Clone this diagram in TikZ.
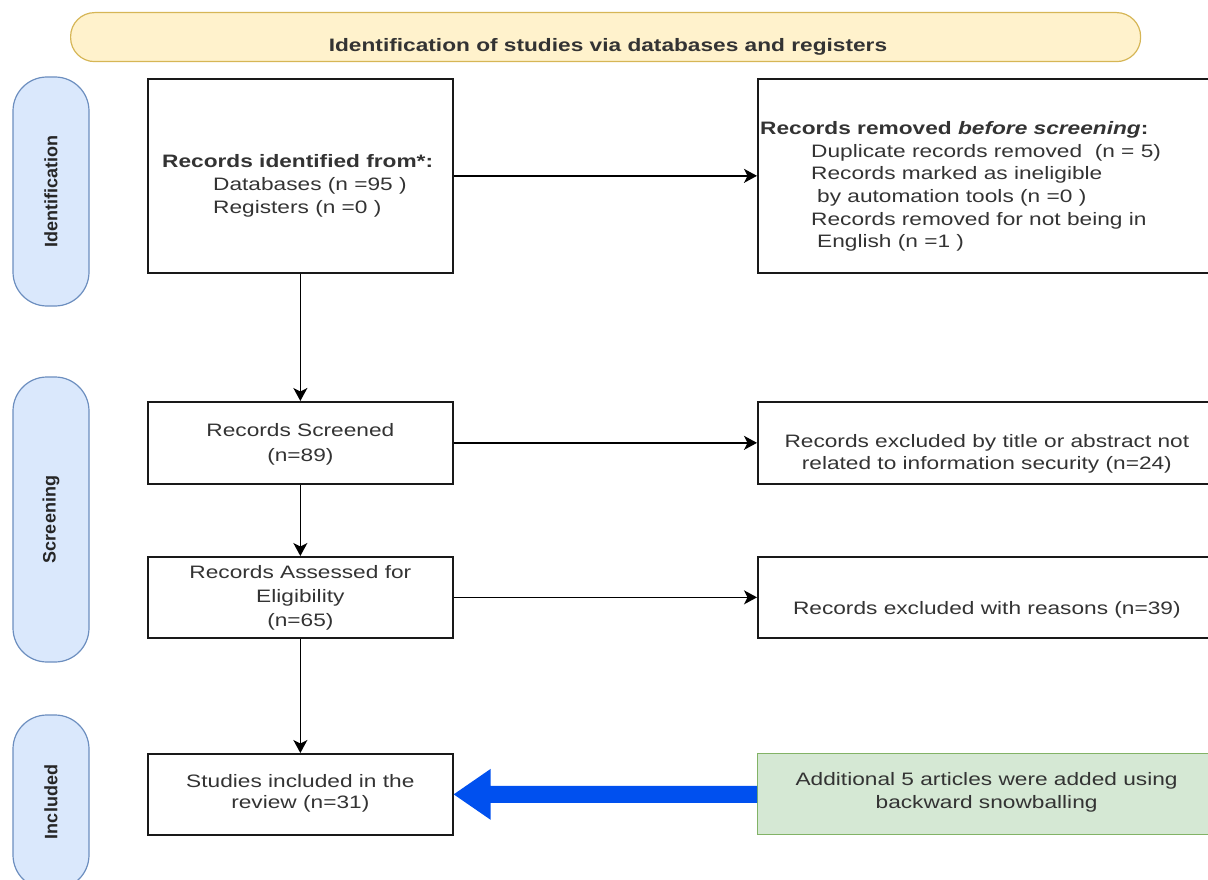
\documentclass[tikz,border=0pt]{standalone}
\usepackage{fontspec}
\setmainfont[FakeStretch=1.26]{Liberation Sans}
\newfontfamily\pillfont{Liberation Sans}
\usetikzlibrary{arrows.meta,calc}
\definecolor{bannerfill}{HTML}{FFF2CC}
\definecolor{bannerdraw}{HTML}{D6B656}
\definecolor{pillfill}{HTML}{DAE8FC}
\definecolor{pilldraw}{HTML}{6C8EBF}
\definecolor{greenfill}{HTML}{D5E8D4}
\definecolor{greendraw}{HTML}{82B366}
\definecolor{flowblue}{HTML}{0050EF}
\definecolor{txtgray}{HTML}{333333}
\tikzset{
  box/.style={draw=black!90, line width=1.7pt, inner sep=0pt, anchor=north west},
  greenbox/.style={box, draw=greendraw, fill=greenfill, line width=1.2pt},
  pill/.style={draw=pilldraw, fill=pillfill, line width=1.2pt, rounded corners=34pt,
    rotate=90, minimum width=229pt, minimum height=76pt, inner sep=0pt,
    font=\pillfont\bfseries\fontsize{18}{20}\selectfont, text=black!85},
  txt/.style={inner sep=0pt, text=txtgray, font=\fontsize{18}{23}\selectfont},
  arr/.style={draw=black, line width=1.7pt, -{Stealth[length=13pt,width=14pt,inset=3.5pt]}},
}
\begin{document}
\begin{tikzpicture}[x=1pt,y=-1pt]
\useasboundingbox (0,0) rectangle (1208,880);

% banner
\node[draw=bannerdraw, fill=bannerfill, line width=1.2pt, rounded corners=24pt,
  minimum width=1070pt, minimum height=49pt, inner sep=0pt, anchor=north west] (banner) at (70,12) {};
\node[txt, font=\bfseries\fontsize{18}{22}\selectfont] (bannertxt) at (608,47) {Identification of studies via databases and registers};

% phase pills
\node[pill] (p1) at (51,191.5) {Identification};
\node[pill, minimum width=285pt] (p2) at (51,519.5) {Screening};
\node[pill, minimum width=174pt] (p3) at (51,802) {Included};

% left boxes
\node[box, minimum width=305pt, minimum height=194pt] (A) at (147,78) {};
\node[box, minimum width=305pt, minimum height=82pt] (C) at (147,401) {};
\node[box, minimum width=305pt, minimum height=81pt] (E) at (147,556) {};
\node[box, minimum width=305pt, minimum height=81pt] (G) at (147,753) {};

% right boxes (run past the right edge)
\node[box, minimum width=458pt, minimum height=194pt] (B) at (757,78) {};
\node[box, minimum width=458pt, minimum height=82pt] (D) at (757,401) {};
\node[box, minimum width=458pt, minimum height=81pt] (F) at (757,556) {};
\node[greenbox, minimum width=458pt, minimum height=81pt] (H) at (757,753) {};

% texts
\node[txt, anchor=west, align=left] (At) at (162,186) {\textbf{Records identified from*:}\\
\hspace*{51pt}Databases (n =95 )\\
\hspace*{51pt}Registers (n =0 )};
\node[txt, anchor=west, align=left, font=\fontsize{18}{22.6}\selectfont] (Bt) at (760,186.5) {\textbf{Records removed \textit{before screening}:}\\
\hspace*{51pt}Duplicate records removed\ \ (n = 5)\\
\hspace*{51pt}Records marked as ineligible\\
\hspace*{57pt}by automation tools (n =0 )\\
\hspace*{51pt}Records removed for not being in\\
\hspace*{57pt}English (n =1 )};
\node[txt, align=center, font=\fontsize{18}{25}\selectfont] (Ct) at ($(C.center)+(0,1)$) {Records Screened\\(n=89)};
\node[txt, align=center, font=\fontsize{18}{22}\selectfont] (Dt) at ($(D.center)+(0,11)$) {Records excluded by title or abstract not\\related to information security (n=24)};
\node[txt, align=center, font=\fontsize{18}{24}\selectfont] (Et) at (E.center) {Records Assessed for\\Eligibility\\(n=65)};
\node[txt] (Ft) at ($(F.center)+(0,12.5)$) {Records excluded with reasons (n=39)};
\node[txt, align=center, font=\fontsize{18}{21.5}\selectfont] (Gt) at ($(G.center)+(0,-1)$) {Studies included in the\\review (n=31)};
\node[txt, align=center] (Ht) at ($(H.center)+(0,-2)$) {Additional 5 articles were added using\\backward snowballing};

% connectors
\draw[arr] (A.east) -- (B.west);
\draw[arr] (C.east) -- (D.west);
\draw[arr] (E.east) -- (F.west);
\draw[arr] (A.south) -- (C.north);
\draw[arr] (C.south) -- (E.north);
\draw[arr] (E.south) -- (G.north);

% blue block arrow from H to G
\coordinate (tip) at (G.east);
\coordinate (tail) at (G.east -| H.west);
\fill[flowblue] (tip) -- ($(tip)+(37,-25.5)$) -- ($(tip)+(37,-8.5)$)
  -- ($(tail)+(0,-8.5)$) -- ($(tail)+(0,8.5)$) -- ($(tip)+(37,8.5)$)
  -- ($(tip)+(37,25.5)$) -- cycle;
\end{tikzpicture}
\end{document}
